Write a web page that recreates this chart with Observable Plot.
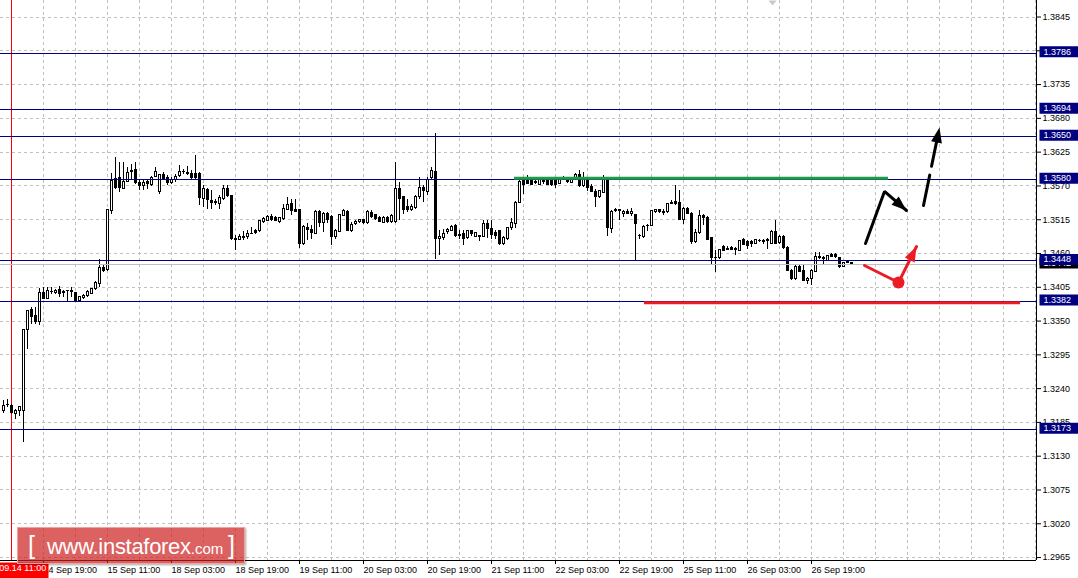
<!DOCTYPE html>
<html>
<head>
<meta charset="utf-8">
<script src="https://cdn.jsdelivr.net/npm/d3@7"></script>
<script src="https://cdn.jsdelivr.net/npm/@observablehq/plot@0.6"></script>
<style>
  html, body { margin: 0; padding: 0; background: #ffffff; }
  #wrap { position: relative; width: 1078px; height: 578px; overflow: hidden; background: #fff; }
  #wm { position: absolute; left: 17px; top: 527px; width: 228px; height: 37px; box-sizing: border-box;
        background: rgba(205, 30, 30, 0.7); border: 1px solid rgba(240, 170, 170, 0.9);
        box-shadow: 1px 1px 2px rgba(0,0,0,0.35); color: #fff; white-space: nowrap;
        font-family: "Liberation Sans", Arial, sans-serif; }
  #wm span { position: absolute; }
</style>
</head>
<body>
<div id="wrap">
  <div id="chart"></div>
  <div id="wm">
    <span style="left:10px; top:3px; font-size:25px;">[</span>
    <span style="left:29px; top:6px; font-size:22px; letter-spacing:-0.3px;">www.instaforex<span style="position:static; font-size:15px; letter-spacing:0;">.com</span></span>
    <span style="left:210px; top:3px; font-size:25px;">]</span>
  </div>
</div>
<script>
// ---------- data (H1 candles, bar index 0 = first visible bar) ----------
const open = [
1.32041,1.32133,1.32122,1.31987,1.32030,1.32041,1.33353,1.33684,1.33575,1.33478,
1.33955,1.33857,1.33966,1.33955,1.34004,1.33966,1.33993,1.33982,1.33955,1.33819,
1.33873,1.33911,1.33939,1.34020,1.34101,1.34361,1.34329,1.35294,1.35809,1.35836,
1.35657,1.35766,1.35945,1.35956,1.35755,1.35701,1.35766,1.35712,1.35847,1.35609,
1.35874,1.35836,1.35744,1.35793,1.35863,1.35928,1.35918,1.35901,1.35890,1.35901,
1.35495,1.35630,1.35457,1.35446,1.35402,1.35484,1.35657,1.35538,1.34833,1.34822,
1.34871,1.34871,1.34915,1.34959,1.34959,1.35105,1.35132,1.35202,1.35175,1.35105,
1.35159,1.35311,1.35414,1.35316,1.35311,1.34753,1.35013,1.34980,1.34915,1.35278,
1.35089,1.35240,1.35197,1.34861,1.34942,1.35213,1.35278,1.34970,1.35078,1.35105,
1.35143,1.35089,1.35262,1.35224,1.35186,1.35094,1.35186,1.35105,1.35105,1.35647,
1.35512,1.35360,1.35306,1.35338,1.35512,1.35663,1.35609,1.35826,1.35929,1.34834,
1.34850,1.34942,1.34970,1.35051,1.34899,1.34915,1.34850,1.34959,1.34872,1.34883,
1.34872,1.35078,1.34997,1.34926,1.34959,1.34753,1.34834,1.35013,1.35078,1.35430,
1.35783,1.35783,1.35783,1.35756,1.35718,1.35783,1.35783,1.35783,1.35783,1.35728,
1.35810,1.35783,1.35745,1.35821,1.35880,1.35701,1.35810,1.35685,1.35609,1.35512,
1.35593,1.35810,1.34997,1.35306,1.35306,1.35240,1.35278,1.35240,1.35224,1.34888,
1.34872,1.35051,1.35051,1.35268,1.35306,1.35268,1.35268,1.35414,1.35446,1.35420,
1.35143,1.35322,1.35251,1.34780,1.34926,1.35213,1.35186,1.34850,1.34525,1.34525,
1.34709,1.34671,1.34687,1.34671,1.34644,1.34823,1.34780,1.34780,1.34753,1.34807,
1.34807,1.34818,1.34753,1.34953,1.34763,1.34872,1.34687,1.34319,1.34183,1.34373,
1.34319,1.34145,1.34183,1.34303,1.34546,1.34525,1.34481,1.34579,1.34574,1.34525,
1.34384,1.34454,1.34438];
const high = [
1.32203,1.32231,1.32149,1.32068,1.32106,1.33369,1.33678,1.33722,1.33722,1.34031,
1.34047,1.34047,1.34047,1.34020,1.34058,1.33993,1.34004,1.34047,1.33966,1.33895,
1.33928,1.33993,1.34036,1.34139,1.34497,1.34427,1.35321,1.35901,1.36162,1.36080,
1.36080,1.35999,1.36053,1.36080,1.35809,1.35793,1.35809,1.35847,1.35999,1.35890,
1.35918,1.35863,1.35836,1.35890,1.36026,1.35972,1.36010,1.35945,1.36189,1.35912,
1.35701,1.35663,1.35619,1.35484,1.35538,1.35701,1.35701,1.35549,1.34887,1.34915,
1.34952,1.34969,1.35024,1.34997,1.35143,1.35186,1.35213,1.35229,1.35197,1.35186,
1.35403,1.35512,1.35485,1.35485,1.35322,1.35051,1.35089,1.35051,1.35295,1.35295,
1.35268,1.35268,1.35213,1.34997,1.35240,1.35322,1.35295,1.35105,1.35143,1.35159,
1.35159,1.35295,1.35295,1.35240,1.35197,1.35197,1.35197,1.35240,1.36081,1.35756,
1.35522,1.35485,1.35392,1.35539,1.35837,1.35701,1.35837,1.35999,1.36553,1.34970,
1.34997,1.35013,1.35051,1.35078,1.34970,1.34970,1.34970,1.34980,1.34942,1.34888,
1.35143,1.35132,1.35132,1.34980,1.34980,1.34872,1.35024,1.35175,1.35447,1.35783,
1.35837,1.35864,1.35794,1.35783,1.35837,1.35837,1.35810,1.35794,1.35810,1.35837,
1.35848,1.35810,1.35837,1.35902,1.35956,1.35918,1.35837,1.35728,1.35647,1.35631,
1.35864,1.35837,1.35295,1.35338,1.35322,1.35306,1.35322,1.35338,1.35240,1.34915,
1.35062,1.35078,1.35306,1.35322,1.35322,1.35322,1.35414,1.35457,1.35701,1.35620,
1.35349,1.35349,1.35268,1.34997,1.35295,1.35240,1.35197,1.34861,1.34644,1.34671,
1.34725,1.34709,1.34709,1.34698,1.34818,1.34850,1.34807,1.34807,1.34834,1.34834,
1.34834,1.34845,1.34970,1.35132,1.34888,1.34888,1.34709,1.34346,1.34400,1.34400,
1.34416,1.34210,1.34346,1.34617,1.34617,1.34546,1.34574,1.34601,1.34601,1.34536,
1.34454,1.34465,1.34443];
const low = [
1.31997,1.32095,1.31987,1.31905,1.31949,1.31526,1.33044,1.33451,1.33440,1.33424,
1.33846,1.33846,1.33928,1.33939,1.33884,1.33884,1.33819,1.33884,1.33819,1.33803,
1.33857,1.33884,1.33928,1.34004,1.34047,1.34291,1.34307,1.35229,1.35646,1.35592,
1.35646,1.35755,1.35793,1.35728,1.35619,1.35630,1.35646,1.35684,1.35836,1.35565,
1.35782,1.35701,1.35728,1.35755,1.35836,1.35890,1.35863,1.35809,1.35809,1.35375,
1.35348,1.35321,1.35321,1.35375,1.35321,1.35457,1.35511,1.34806,1.34643,1.34806,
1.34817,1.34833,1.34904,1.34915,1.34942,1.35089,1.35121,1.35121,1.35121,1.35089,
1.35143,1.35295,1.35213,1.35268,1.34687,1.34725,1.34807,1.34834,1.34904,1.35024,
1.34942,1.35089,1.34725,1.34834,1.34937,1.35197,1.34959,1.34942,1.35051,1.35089,
1.35078,1.35078,1.35175,1.35143,1.35100,1.35089,1.35094,1.35089,1.35089,1.35132,
1.35240,1.35268,1.35284,1.35322,1.35485,1.35430,1.35539,1.35810,1.34508,1.34563,
1.34807,1.34915,1.34959,1.34861,1.34834,1.34725,1.34834,1.34872,1.34861,1.34791,
1.34861,1.34850,1.34834,1.34834,1.34725,1.34725,1.34818,1.34970,1.35013,1.35414,
1.35566,1.35718,1.35701,1.35718,1.35712,1.35718,1.35701,1.35685,1.35663,1.35718,
1.35783,1.35739,1.35739,1.35810,1.35674,1.35674,1.35609,1.35593,1.35349,1.35501,
1.35582,1.34872,1.34926,1.35268,1.35143,1.35186,1.35230,1.35197,1.34492,1.34834,
1.34850,1.34959,1.35034,1.35251,1.35251,1.35213,1.35251,1.35403,1.35376,1.35132,
1.35078,1.35240,1.34753,1.34763,1.34915,1.35051,1.34807,1.34416,1.34292,1.34508,
1.34633,1.34644,1.34644,1.34563,1.34633,1.34725,1.34671,1.34698,1.34742,1.34780,
1.34753,1.34671,1.34742,1.34742,1.34753,1.34671,1.34308,1.34167,1.34167,1.34292,
1.34145,1.34102,1.34075,1.34292,1.34508,1.34427,1.34471,1.34536,1.34525,1.34362,
1.34373,1.34443,1.34427];
const close = [
1.32122,1.32140,1.32003,1.32041,1.32095,1.33358,1.33657,1.33559,1.33478,1.33955,
1.33857,1.33993,1.33977,1.33993,1.33939,1.33970,1.33990,1.33966,1.33830,1.33884,
1.33906,1.33966,1.34014,1.34117,1.34361,1.34318,1.35310,1.35782,1.35663,1.35663,
1.35766,1.35907,1.35928,1.35755,1.35701,1.35755,1.35739,1.35825,1.35923,1.35874,
1.35809,1.35755,1.35793,1.35847,1.35923,1.35930,1.35890,1.35825,1.35836,1.35511,
1.35646,1.35468,1.35430,1.35419,1.35511,1.35657,1.35538,1.34833,1.34830,1.34871,
1.34850,1.34915,1.34918,1.34931,1.35132,1.35159,1.35197,1.35143,1.35132,1.35170,
1.35322,1.35392,1.35295,1.35278,1.34753,1.35024,1.34986,1.34926,1.35278,1.35089,
1.35240,1.35143,1.34872,1.34970,1.35224,1.35295,1.34970,1.35062,1.35121,1.35143,
1.35100,1.35278,1.35197,1.35159,1.35105,1.35186,1.35105,1.35213,1.35647,1.35485,
1.35311,1.35311,1.35360,1.35512,1.35663,1.35620,1.35799,1.35945,1.34834,1.34872,
1.34915,1.34980,1.35035,1.34888,1.34896,1.34834,1.34959,1.34915,1.34926,1.34861,
1.35078,1.34997,1.34899,1.34888,1.34753,1.34850,1.35013,1.35089,1.35430,1.35756,
1.35712,1.35728,1.35712,1.35754,1.35794,1.35780,1.35718,1.35718,1.35712,1.35794,
1.35813,1.35756,1.35799,1.35880,1.35701,1.35821,1.35674,1.35609,1.35512,1.35620,
1.35837,1.35013,1.35268,1.35284,1.35284,1.35278,1.35251,1.35278,1.35078,1.34890,
1.35024,1.35053,1.35295,1.35306,1.35268,1.35270,1.35403,1.35430,1.35403,1.35143,
1.35322,1.35251,1.34780,1.34926,1.35213,1.35186,1.34818,1.34525,1.34527,1.34655,
1.34644,1.34673,1.34655,1.34669,1.34807,1.34742,1.34725,1.34753,1.34818,1.34809,
1.34780,1.34816,1.34953,1.34753,1.34861,1.34687,1.34319,1.34183,1.34373,1.34303,
1.34156,1.34183,1.34319,1.34536,1.34519,1.34523,1.34563,1.34546,1.34536,1.34384,
1.34438,1.34452,1.34436];

// horizontal levels (navy) and current bid
const levels = [1.3786, 1.3694, 1.3650, 1.3580, 1.3448, 1.3382, 1.3173];
const bid = 1.3442;

// price axis ticks
const yTicks = [1.3845, 1.3790, 1.3735, 1.3680, 1.3625, 1.3570, 1.3515, 1.3460, 1.3405,
                1.3350, 1.3295, 1.3240, 1.3185, 1.3130, 1.3075, 1.3020, 1.2965];

// time axis ticks (bar index) and labels
const xTickBars = [10, 26, 42, 58, 74, 90, 106, 122, 138, 154, 170, 186, 202];
const xTickLabels = ["14 Sep 19:00", "15 Sep 11:00", "18 Sep 03:00", "18 Sep 19:00", "19 Sep 11:00",
                     "20 Sep 03:00", "20 Sep 19:00", "21 Sep 11:00", "22 Sep 03:00", "22 Sep 19:00",
                     "25 Sep 11:00", "26 Sep 03:00", "26 Sep 19:00"];

// vertical marker line (red) and its label
const markerBar = [2];
const markerLabel = ["2017.09.14 11:00"];

// drawn annotations (bar index, price)
const greenLine = [{i0: 127.75, i1: 221.25, p: 1.35826}];
const redLine   = [{i0: 160.25, i1: 254.25, p: 1.3380}];
const blackPath = [{i: 215.5, p: 1.34763}, {i: 220.25, p: 1.35610}, {i: 225.75, p: 1.35300}];
const dashPath  = [{i: 230.0, p: 1.35382}, {i: 234.0, p: 1.36650}];
const redPath   = [{i: 215.25, p: 1.34405}, {i: 223.75, p: 1.34128}];
const redArrow  = [{i: 223.75, p: 1.34128}, {i: 228.25, p: 1.34714}];
const heads = [
  {i: 225.75, p: 1.35300, angle: 130.8, color: "black"},
  {i: 234.0,  p: 1.36650, angle: 11.6,  color: "black"},
  {i: 228.25, p: 1.34714, angle: 26.6,  color: "#ec1c24"}
];
const topMarker = [192.25];

// ---------- build ----------
const candles = open.map((o, i) => ({i, open: o, high: high[i], low: low[i], close: close[i]}));
const xDomain = [-0.75, 258.25];
const yDomain = [1.29602, 1.38719];
const gridBars = d3.range(2, 259, 8);
const labelOf = new Map(xTickBars.map((b, k) => [b, xTickLabels[k]]));

const boxSym = (w, h, oy) => ({draw(ctx) { ctx.rect(-w / 2, -h / 2 + oy, w, h); }});
const headSym = (len, w) => ({draw(ctx) { ctx.moveTo(0, 0); ctx.lineTo(w / 2, len); ctx.lineTo(-w / 2, len); ctx.closePath(); }});
const downTri = {draw(ctx) { ctx.moveTo(-4, 0); ctx.lineTo(4, 0); ctx.lineTo(0, 5); ctx.closePath(); }};

const navy = "#000080";
const red = "#ec1c24";
const crisp = {shapeRendering: "crispEdges"};

const chart = Plot.plot({
  width: 1078,
  height: 578,
  marginTop: 0, marginRight: 42, marginBottom: 18, marginLeft: 0,
  x: {domain: xDomain, axis: null},
  y: {domain: yDomain, axis: null},
  style: {fontFamily: "'Liberation Sans', Arial, sans-serif", fontSize: "9px", background: "#ffffff", color: "black", overflow: "visible"},
  marks: [
    // grid
    Plot.ruleY(yTicks, {stroke: "#c0c0c0", strokeDasharray: "3,3", ...crisp}),
    Plot.ruleX(gridBars, {stroke: "#c0c0c0", strokeDasharray: "3,3", ...crisp}),
    // red time marker
    Plot.ruleX(markerBar, {stroke: "red", ...crisp}),
    // candles
    Plot.ruleX(candles, {x: "i", y1: "low", y2: "high", stroke: "black", ...crisp}),
    Plot.rect(candles, {x1: d => d.i - 0.25, x2: d => d.i + 0.25, y1: "open", y2: "close",
                        fill: d => d.close >= d.open ? "white" : "black", stroke: "black", ...crisp}),
    Plot.ruleY(candles.filter(d => Math.abs(d.close - d.open) < 0.00008),
               {x1: d => d.i - 0.375, x2: d => d.i + 0.375, y: "close", stroke: "black", ...crisp}),
    // levels
    Plot.ruleY([bid], {stroke: "#c0c0c0", ...crisp}),
    Plot.ruleY(levels, {stroke: navy, ...crisp}),
    Plot.ruleY(greenLine, {x1: "i0", x2: "i1", y: "p", stroke: "#1e9c48", strokeWidth: 3}),
    Plot.ruleY(redLine, {x1: "i0", x2: "i1", y: "p", stroke: red, strokeWidth: 3}),
    // forecast arrows
    Plot.line(blackPath, {x: "i", y: "p", stroke: "black", strokeWidth: 3, strokeLinejoin: "miter"}),
    Plot.line(dashPath, {x: "i", y: "p", stroke: "black", strokeWidth: 3, strokeDasharray: "31,9"}),
    Plot.line(redPath, {x: "i", y: "p", stroke: red, strokeWidth: 3}),
    Plot.line(redArrow, {x: "i", y: "p", stroke: red, strokeWidth: 3}),
    Plot.dot(heads, {x: "i", y: "p", rotate: "angle", fill: "color", stroke: "none", symbol: headSym(15, 11)}),
    Plot.dot(redPath.slice(1), {x: "i", y: "p", r: 6, fill: red, stroke: "none"}),
    Plot.dot(topMarker, {x: d => d, frameAnchor: "top", symbol: downTri, fill: "#c8c8c8", stroke: "none"}),
    // axes frame
    Plot.ruleX([xDomain[1]], {stroke: "black", ...crisp}),
    Plot.ruleY([yDomain[0]], {stroke: "black", ...crisp}),
    Plot.axisY(yTicks, {anchor: "right", tickSize: 4, tickPadding: 2, tickFormat: d => d.toFixed(4), color: "black"}),
    Plot.axisX(xTickBars, {anchor: "bottom", tickSize: 4, tickPadding: 2, textAnchor: "start",
                           tickFormat: d => labelOf.get(d), color: "black"}),
    // price labels on the axis
    Plot.dot([bid], {y: d => d, frameAnchor: "right", dx: 22.5, symbol: boxSym(39, 11, -1.5), fill: "black", stroke: "none"}),
    Plot.text([bid], {y: d => d, text: d => d.toFixed(4), frameAnchor: "right", dx: 7, dy: -1.5, textAnchor: "start", fill: "white"}),
    Plot.dot(levels, {y: d => d, frameAnchor: "right", dx: 22.5, symbol: boxSym(39, 11, -1.5), fill: navy, stroke: "none"}),
    Plot.text(levels, {y: d => d, text: d => d.toFixed(4), frameAnchor: "right", dx: 7, dy: -1.5, textAnchor: "start", fill: "white"}),
    // red time label
    Plot.dot(markerBar, {x: d => d, frameAnchor: "bottom", dy: 10, symbol: boxSym(74, 16, 0), fill: "red", stroke: "none"}),
    Plot.text(markerBar, {x: d => d, text: (d, k) => markerLabel[k], frameAnchor: "bottom", dy: 10, fill: "white"})
  ]
});
document.getElementById("chart").appendChild(chart);
</script>
</body>
</html>
